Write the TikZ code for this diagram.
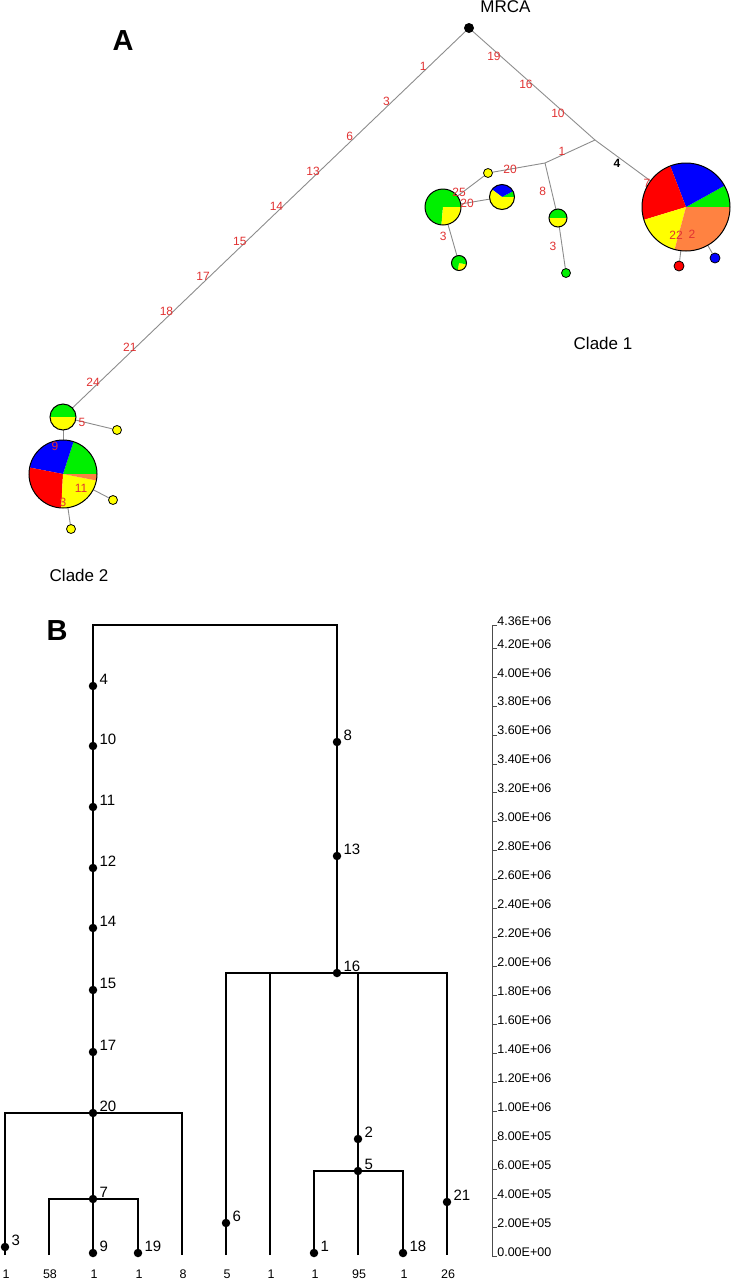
\documentclass[tikz,border=0pt]{standalone}
\usepackage{fontspec}
\setmainfont{Liberation Sans}
\usetikzlibrary{positioning, calc, backgrounds}
\definecolor{hapgreen}{RGB}{0, 240, 0}
\definecolor{hapblue}{RGB}{0, 0, 255}
\definecolor{hapred}{RGB}{255, 0, 0}
\definecolor{hapyellow}{RGB}{255, 255, 0}
\definecolor{haporange}{RGB}{255, 130, 65}
\definecolor{mutred}{RGB}{225, 50, 50}
\definecolor{edgegray}{RGB}{140, 140, 140}
\tikzset{
  panel/.style={font=\fontsize{29}{30}\selectfont\bfseries, inner sep=0pt},
  cladelab/.style={font=\fontsize{17}{20}\selectfont, inner sep=0pt},
  mut/.style={text=mutred, font=\fontsize{12}{12}\selectfont, inner sep=0pt},
  edge/.style={draw=edgegray, line width=0.9pt},
  pie/.style={circle, draw=black, line width=1pt, inner sep=0pt, outer sep=0pt, minimum size=#1},
  hap/.style={circle, draw=black, line width=0.8pt, fill=#1, inner sep=0pt, minimum size=9pt},
  tbranch/.style={line width=2.6pt},
  tdot/.style={circle, fill=black, inner sep=0pt, minimum size=8.5pt},
  tlab/.style={font=\fontsize{15}{15}\selectfont, anchor=base west, inner sep=2pt, yshift=2pt},
  tipcount/.style={font=\fontsize{12.5}{13}\selectfont, anchor=base, inner sep=0pt, yshift=-23pt, xshift=1pt},
  axline/.style={line width=0.7pt, draw=black!70},
  axlab/.style={font=\fontsize{12.5}{13}\selectfont, anchor=base west, inner sep=0pt},
}
% pie node: name, centre, radius, wedges start/end/colour
\newcommand{\piechart}[4]{%
  \foreach \a/\b/\c in {#4}
    \fill[\c] (#2) -- ++(\a:#3) arc[start angle=\a, end angle=\b, radius=#3] -- cycle;
  \node[pie=2*#3] (#1) at (#2) {};
}
\begin{document}
\begin{tikzpicture}[x=1pt, y=1pt]
  \useasboundingbox (0,0) rectangle (731,-1280);

  % Panel A
  \node[panel] at (123,-40.5) {A};
  \node[circle, fill=black, inner sep=0pt, minimum size=10pt] (mrca) at (469,-28) {};
  \node[cladelab, above right=11.5pt and 7.5pt of mrca] {MRCA};
  \coordinate (jr) at (595,-140);
  \coordinate (jm) at (545,-163);

  % Clade 1
  \piechart{c1big}{686,-207}{44}{0/29/hapgreen, 29/111/hapblue, 111/197/hapred, 197/255/hapyellow, 255/360/haporange}
  \piechart{c1g}{443,-207}{18}{0/265/hapgreen, 265/360/hapyellow}
  \piechart{c1m}{502,-197}{12.5}{0/28/hapgreen, 28/143/hapblue, 143/360/hapyellow}
  \piechart{c1s}{459,-263}{7.5}{260/350/hapyellow, 350/620/hapgreen}
  \piechart{c1gy}{558,-218}{9}{0/180/hapgreen, 180/360/hapyellow}
  \node[hap=hapyellow] (c1y) at (488,-173) {};
  \node[hap=hapgreen] (c1gt) at (566,-273) {};
  \node[hap=hapred, minimum size=10pt] (c1red) at (679,-266) {};
  \node[hap=hapblue, minimum size=10pt] (c1blue) at (715,-258) {};
  \node[cladelab] at (603,-343) {Clade 1};

  % Clade 2
  \piechart{c2top}{63,-417}{13}{0/180/hapgreen, 180/360/hapyellow}
  \piechart{c2big}{63,-474}{34}{0/72/hapgreen, 72/169/hapblue, 169/267/hapred, 267/349/hapyellow, 349/360/haporange}
  \node[hap=hapyellow] (c2y1) at (117,-430) {};
  \node[hap=hapyellow] (c2y2) at (113,-500) {};
  \node[hap=hapyellow] (c2y3) at (71,-529) {};
  \node[cladelab] at (79,-575) {Clade 2};

  % Network edges
  \begin{scope}[on background layer]
    \draw[edge] (mrca) -- (c2top);
    \draw[edge] (mrca) -- (jr);
    \draw[edge] (jr) -- (c1big);
    \draw[edge] (jr) -- (jm);
    \draw[edge] (jm) -- (c1y);
    \draw[edge] (jm) -- (c1gy);
    \draw[edge] (c1gy) -- (c1gt);
    \draw[edge] (c1y) -- (c1g);
    \draw[edge] (c1g) -- (c1m);
    \draw[edge] (c1g) -- (c1s);
    \draw[edge] (c1big) -- (c1red);
    \draw[edge] (c1big) -- (c1blue);
    \draw[edge] (c2top) -- (c2y1);
    \draw[edge] (c2top) -- (c2big);
    \draw[edge] (c2big) -- (c2y2);
    \draw[edge] (c2big) -- (c2y3);
    \node[mut] at ($(jr.center)!0.571!(c1big.center)+(0,-5)$) {7};
  \end{scope}

  % Mutations
  \foreach \lab [count=\i from 0] in {1,3,6,13,14,15,17,18,21,24} {
    \pgfmathsetmacro\t{0.113+0.0903*\i}
    \node[mut] at ($(mrca.center)!\t!(c2top.center)+(0,6)$) {\lab};
  }
  \foreach \lab [count=\i from 0] in {19,16,10} {
    \pgfmathsetmacro\t{0.198+0.254*\i}
    \node[mut] at ($(mrca.center)!\t!(jr)+(0,-6)$) {\lab};
  }
  \foreach \a/\b/\t/\dx/\dy/\lab in {jr/jm/0.66/0/4/1, jm/c1y/0.614/0/0/20,
      jm/c1gy/0.509/-9/0/8, c1gy/c1gt/0.509/-9/0/3, c1y/c1g/0.644/0/3/25,
      c1g/c1m/0.407/0/0/20, c1g/c1s/0.518/-8/0/3, c2top/c2y1/0.35/0/-1/5}
    \node[mut] at ($(\a.center)!\t!(\b.center)+(\dx,\dy)$) {\lab};
  \foreach \p/\dx/\dy/\lab in {c1big/-10/-28/22, c1big/6/-27/2,
      c2big/-8/28/9, c2big/18/-14/11, c2big/0/-28/3}
    \node[mut] at ($(\p.center)+(\dx,\dy)$) {\lab};
  \node[font=\fontsize{12}{12}\selectfont\bfseries, inner sep=0pt]
    at ($(jr)!0.242!(c1big.center)+(0,-7)$) {4};

  % Panel B
  \node[panel] at (57,-631) {B};
  \coordinate (root) at (215,-625);
  \foreach \x [count=\i] in {5,49,93,138,182,226,270,314,358,403,447}
    \coordinate (tip\i) at (\x,-1255);
  \foreach \c [count=\i] in {1,58,1,1,8,5,1,1,95,1,26}
    \node[tipcount] at (tip\i) {\c};
  \foreach \n/\x/\y in {4/93/686, 10/93/746, 11/93/807, 12/93/868, 14/93/928,
      15/93/990, 17/93/1052, 20/93/1113, 7/93/1199, 9/93/1253, 3/5/1247,
      19/138/1253, 8/337/742, 13/337/856, 16/337/973, 2/358/1139, 5/358/1171,
      1/314/1253, 18/403/1253, 6/226/1223, 21/447/1202} {
    \node[tdot] (n\n) at (\x,-\y) {};
    \node[tlab] at (n\n.east) {\n};
  }
  \draw[tbranch] (tip3) |- (root) -| (n16.center);
  \draw[tbranch] (tip1) |- (n20.center) -| (tip5);
  \draw[tbranch] (tip2) |- (n7.center) -| (tip4);
  \draw[tbranch] (tip6) |- (n16.center) -| (tip11);
  \draw[tbranch] (tip7) -- (tip7 |- n16.center);
  \draw[tbranch] (tip9) -- (tip9 |- n16.center);
  \draw[tbranch] (tip8) |- (n5.center) -| (tip10);

  % Time axis
  \draw[axline] (492,-625) -- (492,-1256);
  \foreach \t [count=\i from 0] in {0.00E+00, 2.00E+05, 4.00E+05, 6.00E+05, 8.00E+05,
      1.00E+06, 1.20E+06, 1.40E+06, 1.60E+06, 1.80E+06, 2.00E+06, 2.20E+06,
      2.40E+06, 2.60E+06, 2.80E+06, 3.00E+06, 3.20E+06, 3.40E+06, 3.60E+06,
      3.80E+06, 4.00E+06, 4.20E+06} {
    \pgfmathsetmacro\yy{-1256+28.95*\i}
    \draw[axline] (492,\yy) -- (497,\yy) node[axlab] {\t};
  }
  \draw[axline] (492,-625) -- (497,-625) node[axlab] {4.36E+06};
\end{tikzpicture}
\end{document}
